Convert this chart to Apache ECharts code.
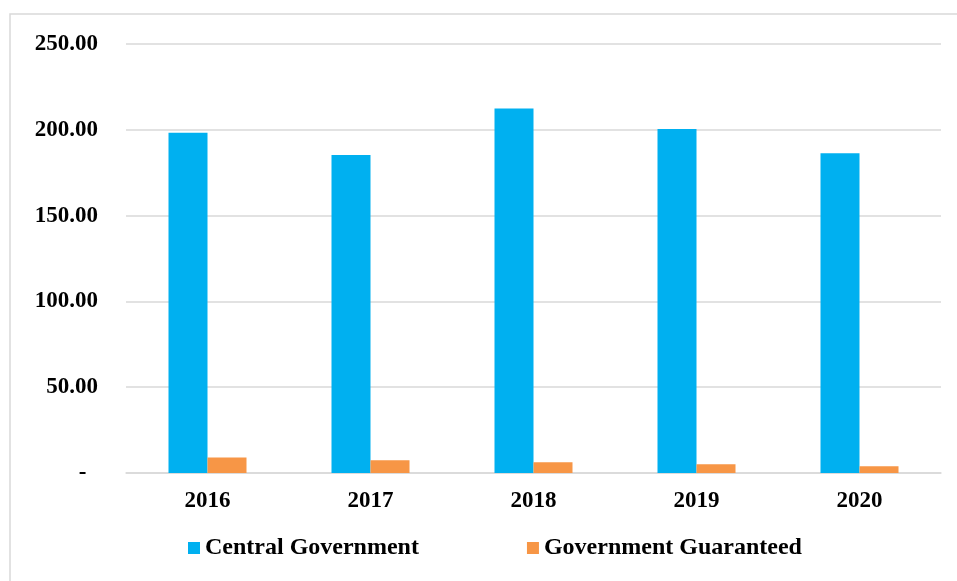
<!DOCTYPE html>
<html>
<head>
<meta charset="utf-8">
<script src="https://cdn.jsdelivr.net/npm/echarts@6/dist/echarts.min.js"></script>
<style>
html, body { margin: 0; padding: 0; background: #fff; }
#main { width: 957px; height: 581px; }
</style>
</head>
<body>
<div id="main"></div>
<script>
// data
var years = ['2016', '2017', '2018', '2019', '2020'];
var central = [198.3, 185.3, 212.4, 200.4, 186.4];
var guaranteed = [9.0, 7.4, 6.2, 5.1, 3.9];
var yTicks = [0, 50, 100, 150, 200, 250];

var chart = echarts.init(document.getElementById('main'));
var font = 'Liberation Serif, Times New Roman, serif';

var option = {
	animation: false,
	backgroundColor: '#fff',
	graphic: [{
		type: 'rect',
		shape: { x: 10, y: 14, width: 960, height: 590 },
		style: { fill: 'none', stroke: '#d9d9d9', lineWidth: 1.5 }
	}],
	grid: { left: 126, right: 16, top: 44, bottom: 108 },
	legend: {
		left: 183,
		top: 531,
		itemWidth: 12,
		itemHeight: 12,
		itemGap: 108,
		icon: 'rect',
		textStyle: { fontFamily: font, fontWeight: 'bold', fontSize: 24, color: '#000' },
		data: ['Central Government', 'Government Guaranteed']
	},
	xAxis: {
		type: 'category',
		data: years,
		axisLine: { lineStyle: { color: '#d9d9d9', width: 1.5 } },
		axisTick: { show: false },
		axisLabel: { fontFamily: font, fontWeight: 'bold', fontSize: 23, color: '#000', margin: 17 }
	},
	yAxis: {
		type: 'value',
		min: yTicks[0],
		max: yTicks[yTicks.length - 1],
		interval: 50,
		axisLine: { show: false },
		axisTick: { show: false },
		splitLine: { lineStyle: { color: '#d9d9d9', width: 1.5 } },
		axisLabel: {
			fontFamily: font, fontWeight: 'bold', fontSize: 23, color: '#000', margin: 28,
			formatter: function (v) { return v === 0 ? '-  ' : v.toFixed(2); }
		}
	},
	series: [
		{
			name: 'Central Government',
			type: 'bar',
			data: central,
			barWidth: 39,
			barGap: '0%',
			itemStyle: { color: '#00b0f0' }
		},
		{
			name: 'Government Guaranteed',
			type: 'bar',
			data: guaranteed,
			barWidth: 39,
			itemStyle: { color: '#f79646' }
		}
	]
};

chart.setOption(option);
</script>
</body>
</html>
